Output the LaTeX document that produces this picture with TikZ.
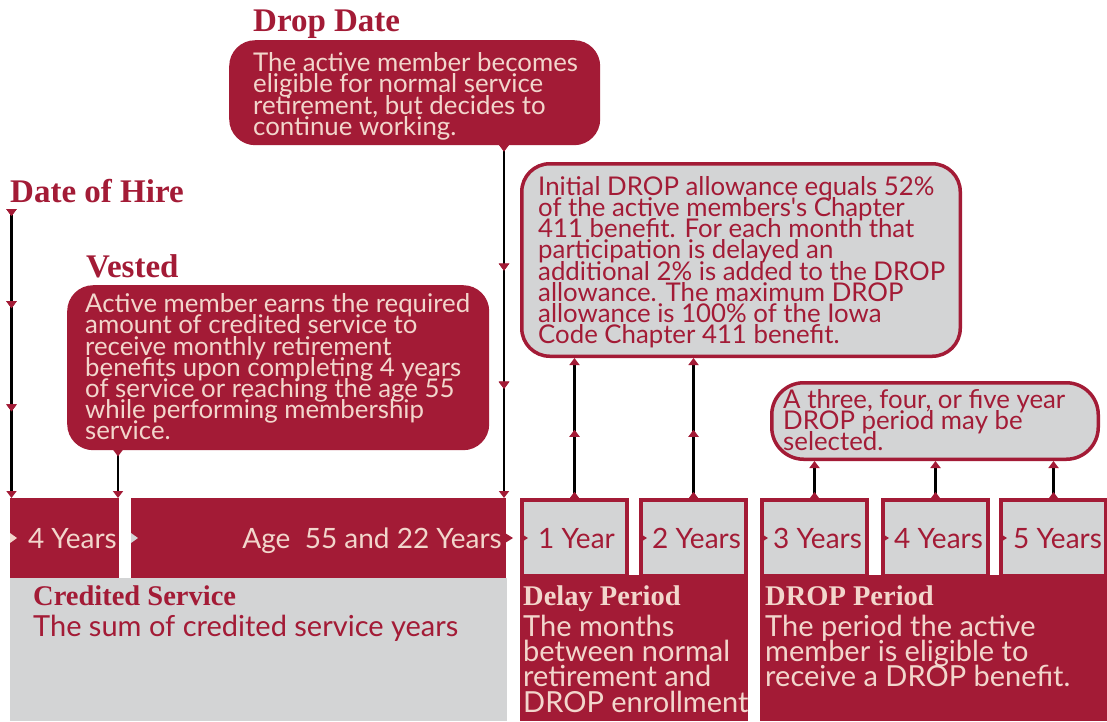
\documentclass[tikz,border=0pt]{standalone}
\usepackage{fontspec}
\setmainfont{Liberation Serif}
\newfontfamily\bodyfont{Lato}
\usetikzlibrary{arrows.meta,decorations.markings}
\definecolor{dr}{HTML}{A31B36}
\definecolor{lt}{HTML}{F2D6CC}
\definecolor{gr}{HTML}{D3D4D5}
\newcommand{\tightlines}{\lineskiplimit=-100pt\lineskip=0pt\relax}
\begin{document}
\begin{tikzpicture}[x=1pt,y=-1pt,
 ttl/.style={font=\bfseries\fontsize{33}{33}\selectfont, text=dr, inner sep=0pt, anchor=base west},
 sttl/.style={font=\bfseries\fontsize{28.5}{28.5}\selectfont, inner sep=0pt, anchor=base west},
 boxtxt/.style={font=\bodyfont\fontsize{25.8}{21.2}\selectfont\tightlines, align=left, inner sep=0pt, anchor=north west},
 bottxt/.style={font=\bodyfont\fontsize{29}{25.2}\selectfont\tightlines, align=left, inner sep=0pt, anchor=north west},
 tiletxt/.style={font=\bodyfont\fontsize{28}{28}\selectfont, inner sep=0pt},
 redbox/.style={fill=dr, draw=none, rounded corners=26pt, anchor=north west, inner sep=0pt},
 graybox/.style={fill=gr, draw=dr, line width=3.5pt, rounded corners=28pt, anchor=north west, inner sep=0pt},
 redtile/.style={fill=dr, draw=none, anchor=north west, inner sep=0pt, outer sep=0pt, minimum height=80pt},
 graytile/.style={fill=gr, draw=dr, line width=4pt, anchor=north west, inner sep=0pt, minimum height=76pt, minimum width=105pt},
 panel/.style={anchor=north west, inner sep=0pt, outer sep=0pt, draw=none},
 conn/.style={draw=black, line width=2.4pt},
 mk/.style={postaction={decorate}, decoration={markings, mark=at position #1 with {\arrow{Triangle[width=10pt,length=7pt,color=dr,fill=dr]}}}},
]
\useasboundingbox (0,0) rectangle (1107,721);
\fill[white] (0,0) rectangle (1107,721);

% ---------- bottom panels ----------
\node[panel, fill=gr, minimum width=497pt, minimum height=143pt] (credpanel) at (10,578) {};
\node[panel, fill=dr, minimum width=228pt, minimum height=146pt] (delaypanel) at (520,575) {};
\node[panel, fill=dr, minimum width=347pt, minimum height=146pt] (droppanel) at (760,575) {};

% ---------- tiles ----------
\node[redtile, minimum width=109pt] (tA) at (10,498) {};
\node[redtile, minimum width=375pt] (tB) at (131,498) {};
\node[graytile] (t1) at (520,498) {};
\node[graytile] (t2) at (639,498) {};
\node[graytile] (t3) at (760,498) {};
\node[graytile] (t4) at (881,498) {};
\node[graytile] (t5) at (999,498) {};

\node[tiletxt, text=lt, anchor=base east] (lA) at (117,548) {4 Years};
\node[tiletxt, text=lt, anchor=base east] (lB) at (502,548) {Age \ 55 and 22 Years};
\node[tiletxt, text=dr, anchor=base] (l1) at ([xshift=2pt]t1.center |- 0,548) {1 Year};
\node[tiletxt, text=dr, anchor=base] (l2) at ([xshift=3pt]t2.center |- 0,548) {2 Years};
\node[tiletxt, text=dr, anchor=base] (l3) at ([xshift=3pt]t3.center |- 0,548) {3 Years};
\node[tiletxt, text=dr, anchor=base] (l4) at ([xshift=3pt]t4.center |- 0,548) {4 Years};
\node[tiletxt, text=dr, anchor=base] (l5) at ([xshift=4pt]t5.center |- 0,548) {5 Years};

% small horizontal arrowheads
\fill[lt] (tA.west) ++(0,-5) -- ++(7,5) -- ++(-7,5) -- cycle;
\fill[gr] (tB.west) ++(0,-5) -- ++(7,5) -- ++(-7,5) -- cycle;
\fill[dr] (tB.east) ++(-1,-5) -- ++(8,5) -- ++(-8,5) -- cycle;
\foreach \t in {t1,t2,t3,t4,t5}{
  \fill[dr] (\t.west) ++(0,-5) -- ++(8,5) -- ++(-8,5) -- cycle;
}

% ---------- bottom texts ----------
\node[sttl, text=dr] (credttl) at (33,605) {Credited Service};
\node[bottxt, text=dr] (credtxt) at (33,615) {The sum of credited service years};
\node[sttl, text=lt] (delayttl) at (523,605) {Delay Period};
\node[bottxt, text=lt] (delaytxt) at (523,615) {The months\\between normal\\retirement and\\DROP enrollment};
\node[sttl, text=lt] (dropttl) at (765,605) {DROP Period};
\node[bottxt, text=lt] (droptxt) at (765,615) {The period the active\\member is eligible to\\receive a DROP benefit.};

% ---------- upper boxes ----------
\node[ttl] (dropdatettl) at (253,31) {Drop Date};
\node[redbox, minimum width=371pt, minimum height=105pt] (dropbox) at (229,40) {};
\node[boxtxt, text=lt] (droptext) at (253,52.5) {The active member becomes\\eligible for normal service\\retirement, but decides to\\continue working.};

\node[ttl] (hirettl) at (10,202) {Date of Hire};
\coordinate (hirestart) at ([xshift=1.5pt]tA.north west |- 0,209);

\node[ttl] (vestttl) at (86,277) {Vested};
\node[redbox, minimum width=422pt, minimum height=165pt] (vestbox) at (67,285) {};
\node[boxtxt, text=lt] (vesttext) at (85,293.5) {Active member earns the required\\amount of credited service to\\receive monthly retirement\\benefits upon completing 4 years\\of service or reaching the age 55\\while performing membership\\service.};

\node[graybox, minimum width=438.5pt, minimum height=192.5pt] (infobox) at (520,162) {};
\node[boxtxt, text=dr] (infotext) at (538,176) {Initial DROP allowance equals 52\%\\of the active members's Chapter\\411 benefit. For each month that\\participation is delayed an\\additional 2\% is added to the DROP\\allowance. The maximum DROP\\allowance is 100\% of the Iowa\\Code Chapter 411 benefit.};

\node[graybox, rounded corners=32pt, minimum width=326.5pt, minimum height=76.5pt] (selbox) at (770,381) {};
\node[boxtxt, text=dr] (seltext) at (783,389) {A three, four, or five year\\DROP period may be\\selected.};

% ---------- connectors ----------
\coordinate (dropA) at (dropbox.south -| tB.east);
\coordinate (vestA) at (vestbox.south -| tA.east);
\draw[conn, mk=7pt, mk=0.343, mk=0.70, -{Triangle[width=10pt,length=7pt,color=dr,fill=dr]}]
  (hirestart) -- ([xshift=1.5pt]tA.north west);
\draw[conn, mk=6pt, mk=0.355, mk=0.69, -{Triangle[width=10pt,length=7pt,color=dr,fill=dr]}]
  ([xshift=-2pt]dropA) -- ([xshift=-2pt]tB.north east);
\draw[conn, mk=6pt, -{Triangle[width=10pt,length=7pt,color=dr,fill=dr]}]
  ([xshift=-1pt]vestA) -- ([xshift=-1pt]tA.north east);
\foreach \t in {t1,t2}{
  \draw[conn, mk=6pt, mk=0.486, -{Triangle[width=10pt,length=7pt,color=dr,fill=dr]}]
    (\t.north) -- (\t.north |- infobox.south);
}
\foreach \t in {t3,t4,t5}{
  \draw[conn, mk=6pt, -{Triangle[width=10pt,length=7pt,color=dr,fill=dr]}]
    (\t.north) -- (\t.north |- selbox.south);
}
\end{tikzpicture}
\end{document}
